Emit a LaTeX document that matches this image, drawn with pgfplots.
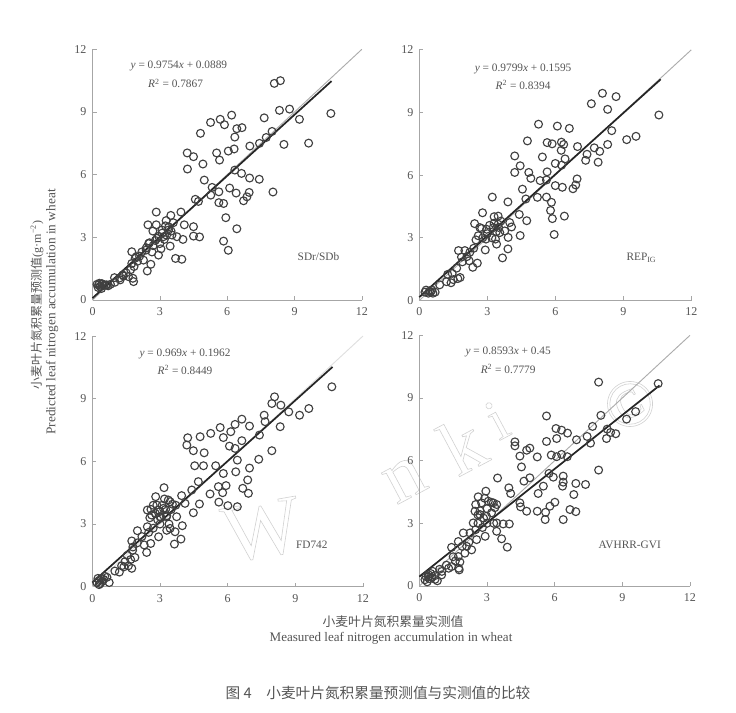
\documentclass[border=0pt]{standalone}
\usepackage{fontspec}
\usepackage{pgfplots}
\usepackage{pgfplotstable}
\pgfplotsset{compat=1.18}
\setmainfont{Liberation Serif}
\newfontfamily\cjk{Noto Sans CJK SC}
\definecolor{ink}{gray}{0.33}
\definecolor{dots}{gray}{0.25}
% hollow letters for the watermark
\newcommand\hollow[1]{\special{pdf:code 1 Tr 0.45 w 0.82 G}#1\special{pdf:code 0 Tr 0 G}}

\pgfplotstableread{
x y
8.37 10.50
8.10 10.37
8.78 9.14
8.33 9.08
10.62 8.93
9.22 8.65
7.65 8.72
6.20 8.85
5.69 8.65
5.26 8.50
5.88 8.39
6.66 8.25
6.43 8.20
8.00 8.07
4.81 7.98
6.34 7.80
7.74 7.78
7.44 7.50
8.53 7.45
9.63 7.51
7.01 7.37
6.31 7.23
6.05 7.13
4.22 7.04
5.53 7.04
4.50 6.86
5.66 6.70
4.92 6.51
4.23 6.27
6.34 6.22
6.64 6.06
7.00 5.84
7.43 5.78
4.98 5.74
5.33 5.39
6.11 5.36
5.63 5.18
5.27 5.02
6.40 5.12
8.04 5.17
6.98 5.15
6.88 4.94
6.73 4.75
4.58 4.82
4.72 4.72
5.63 4.66
5.84 4.62
5.94 3.94
6.43 3.41
5.84 2.82
6.05 2.38
3.98 1.95
3.70 1.99
2.84 4.21
3.94 4.21
3.49 4.05
3.28 3.80
4.09 3.60
4.50 3.51
2.47 3.60
2.84 3.60
4.50 3.06
4.77 3.02
4.03 2.90
2.69 3.30
3.09 3.35
3.39 3.35
3.54 3.11
3.76 3.03
3.16 3.03
2.87 2.95
2.54 2.74
3.46 2.58
2.94 2.15
2.39 2.39
2.60 1.71
2.44 1.39
2.27 1.91
1.75 2.31
1.95 2.07
1.75 1.75
1.83 0.88
1.80 1.04
1.60 1.12
1.38 1.15
0.98 1.07
1.23 0.96
0.64 0.72
0.42 0.77
0.27 0.72
0.34 0.64
0.20 0.75
0.30 0.80
0.35 0.65
0.42 0.78
0.50 0.70
0.60 0.72
0.70 0.68
0.25 0.60
0.40 0.55
0.80 0.75
1.00 0.85
1.20 1.05
1.35 1.20
1.50 1.30
1.70 1.45
1.85 1.60
2.00 1.85
2.10 2.10
1.90 2.00
2.20 2.30
2.40 2.50
2.50 2.70
2.70 2.60
2.80 2.85
3.00 2.70
3.10 3.20
3.20 2.90
3.30 3.10
3.40 3.50
3.50 3.30
3.60 3.70
2.95 3.05
3.25 3.55
3.05 2.45
2.65 2.30
}\tblA

\pgfplotstableread{
x y
8.08 9.92
8.68 9.76
7.59 9.42
8.31 9.15
10.57 8.88
5.26 8.44
6.09 8.35
6.62 8.24
8.49 8.13
9.56 7.86
9.15 7.70
4.77 7.64
5.64 7.56
5.86 7.50
6.27 7.58
6.37 7.47
8.31 7.47
6.98 7.37
7.72 7.31
6.26 7.19
7.96 7.14
7.40 7.00
4.21 6.92
5.43 6.87
6.43 6.78
7.34 6.71
7.89 6.62
6.00 6.56
6.28 6.48
4.45 6.45
5.64 6.16
4.83 6.13
4.21 6.13
4.92 5.85
5.33 5.74
5.61 5.77
6.96 5.82
6.00 5.50
6.31 5.42
6.90 5.53
6.78 5.35
4.55 5.33
4.70 4.86
5.21 4.94
5.61 4.95
5.83 4.70
3.22 4.95
3.91 4.72
2.79 4.20
3.30 4.01
3.48 4.04
5.79 4.31
4.41 4.12
6.40 4.04
5.87 3.92
4.74 3.82
5.95 3.16
4.45 3.11
2.44 3.68
2.67 3.49
3.48 3.65
3.99 3.73
4.07 3.52
3.77 3.33
3.92 3.02
2.97 3.41
3.26 3.49
2.60 3.10
2.94 2.94
3.36 2.94
3.41 2.70
2.91 2.42
3.91 2.47
3.67 2.04
1.73 2.39
2.01 2.39
2.23 2.31
1.86 2.08
2.56 1.79
2.36 1.59
0.25 0.40
0.30 0.50
0.40 0.35
0.45 0.45
0.50 0.40
0.55 0.50
0.60 0.35
0.70 0.40
0.90 0.75
1.20 0.90
1.25 1.25
1.45 1.30
1.50 1.00
1.70 1.05
1.80 1.10
1.40 0.85
1.65 1.55
1.90 1.85
2.10 2.10
2.20 1.90
2.40 2.50
2.50 2.90
2.80 3.00
3.00 3.20
3.20 3.00
3.40 3.30
3.50 3.50
3.60 3.80
3.30 3.70
2.75 3.45
3.10 3.60
3.55 3.25
}\tblB

\pgfplotstableread{
x y
10.62 9.57
8.08 9.09
7.96 8.77
8.36 8.69
9.60 8.53
8.71 8.37
9.19 8.21
7.62 8.21
6.63 8.02
7.66 7.90
6.33 7.77
5.67 7.62
8.33 7.66
6.97 7.69
6.14 7.42
5.25 7.34
4.78 7.18
4.23 7.13
5.81 7.14
7.41 7.26
6.63 6.99
4.19 6.78
6.08 6.73
6.33 6.62
4.48 6.51
4.96 6.41
7.96 6.51
6.43 6.06
7.38 6.10
4.54 5.79
4.93 5.79
5.47 5.79
6.97 5.68
6.36 5.50
5.81 5.42
4.70 5.03
6.89 5.11
5.59 4.79
5.93 4.84
6.67 4.71
6.92 4.47
5.78 4.50
5.22 4.44
4.41 4.63
3.18 4.74
3.96 4.36
2.81 4.31
4.75 3.96
5.61 4.05
6.01 3.88
6.43 3.83
4.48 3.54
4.11 3.99
3.37 4.15
2.44 3.67
2.86 3.91
3.15 3.75
3.45 4.07
3.74 3.35
3.99 2.92
2.92 3.67
3.00 3.35
3.29 3.35
2.63 3.43
3.45 2.79
3.67 2.63
3.93 2.28
3.64 2.04
2.94 2.39
2.44 2.87
2.00 2.68
1.75 2.19
2.59 2.07
2.41 1.64
1.79 1.75
1.89 1.40
1.75 0.88
0.20 0.20
0.30 0.30
0.35 0.15
0.40 0.40
0.45 0.25
0.50 0.35
0.55 0.50
0.65 0.45
0.75 0.20
1.00 0.75
1.30 1.00
1.45 1.20
1.60 1.00
1.55 1.50
1.70 1.30
1.80 1.90
2.00 2.10
2.20 2.40
2.30 2.00
2.50 2.60
2.70 2.80
2.90 3.20
3.00 3.60
3.10 3.90
3.30 3.40
3.20 4.20
2.60 3.70
2.70 3.90
3.40 3.00
3.50 3.70
3.70 3.90
3.00 3.00
3.30 2.70
2.80 3.50
3.05 3.30
3.25 3.70
3.55 3.95
2.55 3.30
0.30 0.10
0.25 0.40
1.20 0.70
1.40 0.95
}\tblC

\pgfplotstableread{
x y
7.95 9.76
10.59 9.69
5.64 8.14
8.05 8.17
9.59 8.35
9.19 7.99
7.68 7.64
6.06 7.54
6.31 7.46
6.57 7.32
8.33 7.51
8.48 7.35
8.71 7.29
8.30 7.06
7.44 7.16
6.97 7.00
6.09 7.06
5.64 6.92
4.24 6.90
4.24 6.71
7.59 6.84
4.90 6.60
4.76 6.50
4.46 6.22
5.23 6.18
5.85 6.27
6.31 6.30
6.09 6.19
6.56 6.19
4.53 5.70
7.95 5.55
5.75 5.39
5.94 5.21
6.38 5.26
3.47 5.17
4.90 5.18
4.64 5.02
5.50 4.78
6.38 4.97
6.35 4.78
6.94 4.91
7.37 4.86
3.97 4.70
4.05 4.43
5.27 4.43
6.85 4.38
2.95 4.54
2.61 4.27
6.01 4.01
4.46 3.98
5.79 3.82
4.49 3.79
4.76 3.58
5.23 3.58
5.60 3.53
6.68 3.66
6.94 3.56
5.58 3.18
6.38 3.18
3.99 2.97
3.72 2.97
3.43 3.02
3.43 2.62
3.65 2.26
3.90 1.86
2.92 2.38
3.28 3.98
3.43 3.90
3.06 4.06
2.76 3.98
2.47 3.58
2.69 3.42
2.98 3.34
2.39 3.02
1.95 2.54
2.25 2.54
2.54 2.22
1.73 2.13
1.43 1.85
2.32 1.73
2.02 1.57
1.73 1.41
1.43 0.93
1.77 0.77
0.99 0.53
0.70 0.32
0.40 0.45
0.25 0.30
0.30 0.45
0.35 0.20
0.40 0.55
0.45 0.35
0.50 0.60
0.55 0.40
0.60 0.70
0.70 0.50
0.80 0.25
0.90 0.80
1.00 0.70
1.20 1.00
1.30 0.85
1.60 1.20
1.75 0.85
1.80 1.15
1.50 1.40
1.90 1.90
2.10 1.90
2.20 2.10
2.50 2.70
2.60 3.00
2.80 2.80
3.00 3.00
2.50 3.90
2.70 3.60
3.00 3.70
3.20 3.50
3.30 3.00
2.90 4.20
3.20 4.00
3.35 3.75
2.85 3.25
2.60 3.40
}\tblD

\tikzset{note/.style={font=\fontsize{8.5}{10}\selectfont, text=ink}}
\pgfplotsset{panel/.style={
    at={#1}, anchor=origin,
    scale only axis, width=202pt, height=188pt,
    xmin=0, xmax=12, ymin=0, ymax=12,
    xtick={0,3,...,12}, ytick={0,3,...,12},
    axis lines=left, axis line style={-, gray!70, line width=0.7pt},
    tick align=inside, major tick length=3pt,
    tick style={gray!70, line width=0.5pt},
    tick label style={font=\fontsize{9}{10}\selectfont, text=ink},
    /pgf/number format/assume math mode=true,
    xticklabel style={yshift=-2pt}, yticklabel style={xshift=-1pt},
    clip=false,
},
pts/.style={only marks, mark=o, mark size=2.95pt, mark options={draw=dots, line width=0.85pt}},
oneone/.style={gray!65, line width=0.7pt, no marks},
fitline/.style={black!85, line width=1.3pt, no marks}}

\begin{document}
\begin{tikzpicture}[x=0.75pt, y=-0.75pt]
\useasboundingbox (0,0) rectangle (736,713);

% watermark behind the plots
\node[rotate=10] at (262,530) {\fontsize{62}{62}\selectfont\hollow{W}};
\node[rotate=28] at (405,480) {\fontsize{58}{58}\selectfont\hollow{n}};
\node[rotate=28] at (462,445) {\fontsize{58}{58}\selectfont\hollow{k}};
\node[rotate=28] at (497,420) {\fontsize{44}{44}\selectfont\hollow{i}};
\node[rotate=28] at (630,404) {\fontsize{50}{50}\selectfont\hollow{©}};

\begin{axis}[panel={(69.375pt,-225pt)}]
\addplot[pts] table[x=x,y=y] {\tblA};
\addplot[oneone] coordinates {(0,0) (12,12)};
\addplot[fitline] coordinates {(0,0.089) (10.65,10.48)};
\node[note] at (axis cs:3.85,11.2) {\textit{y} = 0.9754\textit{x} + 0.0889};
\node[note] at (axis cs:3.7,10.37) {\textit{R}\textsuperscript{2} = 0.7867};
\node[note] at (axis cs:10.07,2.07) {SDr/SDb};
\end{axis}

\begin{axis}[panel={(314.475pt,-225.375pt)}, width=204pt]
\addplot[pts] table[x=x,y=y] {\tblB};
\addplot[oneone] coordinates {(0,0) (12,12)};
\addplot[fitline] coordinates {(0,0.16) (10.65,10.59)};
\node[note] at (axis cs:4.58,11.08) {\textit{y} = 0.9799\textit{x} + 0.1595};
\node[note] at (axis cs:4.58,10.33) {\textit{R}\textsuperscript{2} = 0.8394};
\node[note] at (axis cs:9.8,2.04) {REP\textsubscript{IG}};
\end{axis}

\begin{axis}[panel={(69.225pt,-440.025pt)}, width=203pt]
\addplot[pts] table[x=x,y=y] {\tblC};
\addplot[oneone, gray!25] coordinates {(0,0) (12,12)};
\addplot[fitline] coordinates {(0,0.196) (10.65,10.52)};
\node[note] at (axis cs:4.11,11.16) {\textit{y} = 0.969\textit{x} + 0.1962};
\node[note] at (axis cs:4.11,10.37) {\textit{R}\textsuperscript{2} = 0.8449};
\node[note] at (axis cs:9.73,1.99) {FD742};
\end{axis}

\begin{axis}[panel={(314.475pt,-439.5pt)}, width=203pt]
\addplot[pts] table[x=x,y=y] {\tblD};
\addplot[oneone] coordinates {(0,0) (12,12)};
\addplot[fitline] coordinates {(0,0.45) (10.65,9.60)};
\node[note] at (axis cs:3.94,11.2) {\textit{y} = 0.8593\textit{x} + 0.45};
\node[note] at (axis cs:3.94,10.4) {\textit{R}\textsuperscript{2} = 0.7779};
\node[note] at (axis cs:9.33,1.97) {AVHRR-GVI};
\end{axis}

% shared axis titles and caption
\node[rotate=90, text=ink] at (37,305) {\fontsize{9}{10}\selectfont\cjk 小麦叶片氮积累量预测值\rmfamily (g·m\textsuperscript{−2})};
\node[rotate=90, text=ink] at (52,312) {\fontsize{10}{10}\selectfont Predicted leaf nitrogen accumulation in wheat};
\node[text=ink] at (393,622) {\fontsize{9.6}{11}\selectfont\cjk 小麦叶片氮积累量实测值};
\node[text=ink] at (391,638) {\fontsize{9.8}{11}\selectfont Measured leaf nitrogen accumulation in wheat};
\node[text=ink] at (378,693) {\fontsize{11}{12}\selectfont\cjk 图 4\quad 小麦叶片氮积累量预测值与实测值的比较};
\end{tikzpicture}
\end{document}
